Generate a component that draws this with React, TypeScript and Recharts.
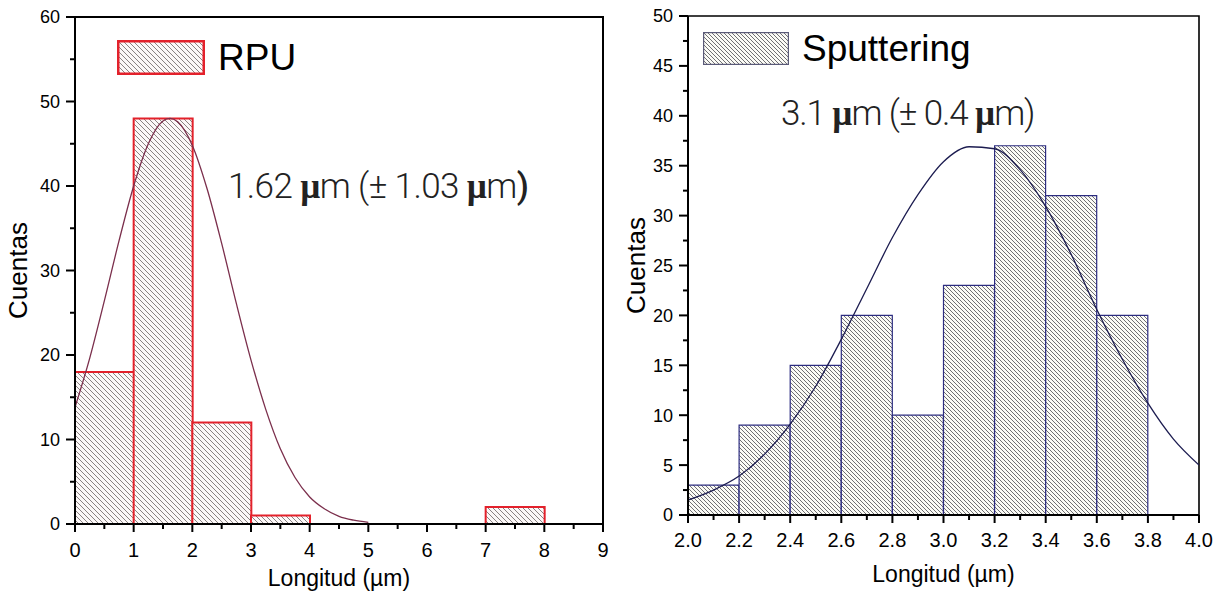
import React from 'react';
import { Bar, ComposedChart, Legend, Line, ReferenceArea, XAxis, YAxis } from 'recharts';

// RPU histogram (1 µm bins) and its gaussian fit
const rpuBins = ['0-1', '1-2', '2-3', '3-4', '4-5', '5-6', '6-7', '7-8', '8-9'];
const rpuCounts = [18, 48, 12, 1, 0, 0, 0, 2, 0];
const rpuFitX = [0, 0.25, 0.5, 0.75, 1, 1.25, 1.5, 1.62, 1.75, 2, 2.25, 2.5, 2.75, 3, 3.25, 3.5, 3.75, 4, 4.25, 4.5, 4.75, 5];
const rpuFitY = [13.8, 19.6, 26.4, 33.5, 40, 45, 47.7, 48, 47.6, 44.8, 39.7, 33.2, 26.1, 19.4, 13.6, 8.9, 5.5, 3.2, 1.8, 0.9, 0.45, 0.2];
const rpuXMajor = [0, 1, 2, 3, 4, 5, 6, 7, 8, 9];
const rpuXMinor = [0.5, 1.5, 2.5, 3.5, 4.5, 5.5, 6.5, 7.5, 8.5];
const rpuYMajor = [0, 10, 20, 30, 40, 50, 60];
const rpuYMinor = [5, 15, 25, 35, 45, 55];

// Sputtering histogram (0.2 µm bins) and its gaussian fit
const spBins = ['2.0-2.2', '2.2-2.4', '2.4-2.6', '2.6-2.8', '2.8-3.0', '3.0-3.2', '3.2-3.4', '3.4-3.6', '3.6-3.8', '3.8-4.0'];
const spCounts = [3, 9, 15, 20, 10, 23, 37, 32, 20, 0];
const spFitX = [2.0, 2.1, 2.2, 2.3, 2.4, 2.5, 2.6, 2.7, 2.8, 2.9, 3.0, 3.1, 3.2, 3.3, 3.4, 3.5, 3.6, 3.7, 3.8, 3.9, 4.0];
const spFitY = [1.5, 2.5, 3.9, 6.1, 9.1, 12.9, 17.6, 22.7, 27.8, 32.1, 35.4, 36.9, 36.7, 34.6, 30.9, 26.1, 20.6, 15.6, 11.2, 7.6, 5.0];
const spXMajor = [2.0, 2.2, 2.4, 2.6, 2.8, 3.0, 3.2, 3.4, 3.6, 3.8, 4.0];
const spXMinor = [2.1, 2.3, 2.5, 2.7, 2.9, 3.1, 3.3, 3.5, 3.7, 3.9];
const spYMajor = [0, 5, 10, 15, 20, 25, 30, 35, 40, 45, 50];
const spYMinor = [2.5, 7.5, 12.5, 17.5, 22.5, 27.5, 32.5, 37.5, 42.5, 47.5];

const FONT = '"Liberation Sans", Arial, sans-serif';
const NOTE_FONT = 'Roboto, "Open Sans", sans-serif';

const HatchPattern = ({ id, size, line, bg }: { id: string; size: number; line: string; bg: string }) => (
  <pattern id={id} patternUnits="userSpaceOnUse" width={size} height={size}>
    <rect width={size} height={size} fill={bg} />
    <path
      d={`M-1,-1 L${size + 1},${size + 1} M-1,${size - 1} L1,${size + 1} M${size - 1},-1 L${size + 1},1`}
      stroke={line}
      strokeWidth={0.8}
    />
  </pattern>
);

// outward ticks: long ones carry a label, short ones are minor
const makeYTick = (major: number[], fmt: (v: number) => string) => (props: any) => {
  const { x, y, payload } = props;
  const isMajor = major.includes(payload.value);
  return (
    <g>
      <line x1={x - (isMajor ? 9 : 5)} x2={x} y1={y} y2={y} stroke="#000" strokeWidth={2} />
      {isMajor && (
        <text x={x - 15} y={y} dy="0.36em" textAnchor="end" fontSize={18} fontFamily={FONT} fill="#000">
          {fmt(payload.value)}
        </text>
      )}
    </g>
  );
};

const makeXTick = (major: number[], fmt: (v: number) => string, baseline: number) => (props: any) => {
  const { x, y, payload } = props;
  const isMajor = major.includes(payload.value);
  return (
    <g>
      <line x1={x} x2={x} y1={y} y2={y + (isMajor ? 8 : 5)} stroke="#000" strokeWidth={2} />
      {isMajor && (
        <text x={x} y={y + baseline} textAnchor="middle" fontSize={20} fontFamily={FONT} fill="#000">
          {fmt(payload.value)}
        </text>
      )}
    </g>
  );
};

const makeLegend =
  (opts: { hatchId: string; size: number; line: string; bg: string; border: string; borderWidth: number; w: number; h: number }) =>
  (props: any) => {
    const entry = (props.payload || [])[0];
    return (
      <div style={{ display: 'flex', alignItems: 'center' }}>
        <svg width={opts.w} height={opts.h}>
          <defs>
            <HatchPattern id={opts.hatchId} size={opts.size} line={opts.line} bg={opts.bg} />
          </defs>
          <rect
            x={opts.borderWidth / 2}
            y={opts.borderWidth / 2}
            width={opts.w - opts.borderWidth}
            height={opts.h - opts.borderWidth}
            fill={`url(#${opts.hatchId})`}
            stroke={opts.border}
            strokeWidth={opts.borderWidth}
          />
        </svg>
        <span style={{ marginLeft: 13, fontFamily: FONT, fontSize: 37, color: '#000', lineHeight: 1 }}>
          {entry ? entry.value : ''}
        </span>
      </div>
    );
  };

const mu = { fontFamily: '"Liberation Serif", serif', fontWeight: 700 } as const;
const axisTitle = { fontSize: 23, fontFamily: FONT, fill: '#000' };

const rpuData = rpuBins.map((bin, i) => ({ bin, count: rpuCounts[i] }));
const rpuFit = rpuFitX.map((x, i) => ({ x, y: rpuFitY[i] }));
const spData = spBins.map((bin, i) => ({ bin, count: spCounts[i] }));
const spFit = spFitX.map((x, i) => ({ x, y: spFitY[i] }));

const RpuChart = () => (
  <ComposedChart width={620} height={591} data={rpuData} barCategoryGap={0} margin={{ top: 17, right: 17, bottom: 0, left: 20 }}>
    <defs>
      <HatchPattern id="rpuHatch" size={5} line="#6d6363" bg="#fcf8f8" />
    </defs>
    <XAxis
      xAxisId="num"
      dataKey="x"
      type="number"
      domain={[0, 9]}
      allowDataOverflow
      ticks={[...rpuXMajor, ...rpuXMinor]}
      interval={0}
      tickSize={0}
      tickMargin={0}
      height={67}
      axisLine={{ stroke: '#000', strokeWidth: 2 }}
      tickLine={false}
      tick={makeXTick(rpuXMajor, (v) => String(v), 33)}
      label={{ value: 'Longitud (µm)', position: 'insideBottom', offset: 5, style: axisTitle }}
    />
    <XAxis xAxisId="bins" dataKey="bin" type="category" height={0} hide />
    <YAxis
      type="number"
      domain={[0, 60]}
      allowDataOverflow
      ticks={[...rpuYMajor, ...rpuYMinor]}
      interval={0}
      tickSize={0}
      tickMargin={0}
      width={55}
      axisLine={{ stroke: '#000', strokeWidth: 2 }}
      tickLine={false}
      tick={makeYTick(rpuYMajor, (v) => String(v))}
      label={{ value: 'Cuentas', angle: -90, position: 'insideLeft', offset: -2, style: { ...axisTitle, fontSize: 26, textAnchor: 'middle' } }}
    />
    <Bar xAxisId="bins" dataKey="count" name="RPU" fill="url(#rpuHatch)" stroke="#e3212b" strokeWidth={2} isAnimationActive={false} />
    <Line
      xAxisId="num"
      data={rpuFit}
      dataKey="y"
      type="monotone"
      dot={false}
      activeDot={false}
      stroke="#7b2f4c"
      strokeWidth={1.3}
      legendType="none"
      isAnimationActive={false}
    />
    <ReferenceArea xAxisId="num" x1={0} x2={9} y1={0} y2={60} fill="none" stroke="#000" strokeWidth={2} />
    <Legend
      layout="vertical"
      align="center"
      verticalAlign="middle"
      wrapperStyle={{ top: 39, left: 117, width: 'auto' }}
      content={makeLegend({ hatchId: 'rpuKey', size: 5, line: '#6d6363', bg: '#fcf8f8', border: '#e3212b', borderWidth: 2.5, w: 88, h: 35 })}
    />
    <text x={228} y={198} fontFamily={NOTE_FONT} fontWeight={300} fontSize={35} letterSpacing={-0.6} fill="#222">
      1.62 <tspan style={mu}>µ</tspan>m (± 1.03 <tspan style={mu}>µ</tspan>m<tspan fontWeight={500}>)</tspan>
    </text>
  </ComposedChart>
);

const SputteringChart = () => (
  <ComposedChart width={603} height={591} data={spData} barCategoryGap={0} margin={{ top: 16, right: 24, bottom: 0, left: 13 }}>
    <defs>
      <HatchPattern id="spHatch" size={4} line="#4d4d52" bg="#fbfbf6" />
    </defs>
    <XAxis
      xAxisId="num"
      dataKey="x"
      type="number"
      domain={[2, 4]}
      allowDataOverflow
      ticks={[...spXMajor, ...spXMinor]}
      interval={0}
      tickSize={0}
      tickMargin={0}
      height={76}
      axisLine={{ stroke: '#000', strokeWidth: 2 }}
      tickLine={false}
      tick={makeXTick(spXMajor, (v) => v.toFixed(1), 32)}
      label={{ value: 'Longitud (µm)', position: 'insideBottom', offset: 9, style: axisTitle }}
    />
    <XAxis xAxisId="bins" dataKey="bin" type="category" height={0} hide />
    <YAxis
      type="number"
      domain={[0, 50]}
      allowDataOverflow
      ticks={[...spYMajor, ...spYMinor]}
      interval={0}
      tickSize={0}
      tickMargin={0}
      width={55}
      axisLine={{ stroke: '#000', strokeWidth: 2 }}
      tickLine={false}
      tick={makeYTick(spYMajor, (v) => String(v))}
      label={{ value: 'Cuentas', angle: -90, position: 'insideLeft', offset: 3, style: { ...axisTitle, fontSize: 26, textAnchor: 'middle' } }}
    />
    <Bar xAxisId="bins" dataKey="count" name="Sputtering" fill="url(#spHatch)" stroke="#2c2c80" strokeWidth={1.2} isAnimationActive={false} />
    <Line
      xAxisId="num"
      data={spFit}
      dataKey="y"
      type="monotone"
      dot={false}
      activeDot={false}
      stroke="#1c1c50"
      strokeWidth={1.3}
      legendType="none"
      isAnimationActive={false}
    />
    <ReferenceArea xAxisId="num" x1={2} x2={4} y1={0} y2={50} fill="none" stroke="#000" strokeWidth={1.6} />
    <Legend
      layout="vertical"
      align="center"
      verticalAlign="middle"
      wrapperStyle={{ top: 30, left: 83, width: 'auto' }}
      content={makeLegend({ hatchId: 'spKey', size: 4, line: '#4d4d52', bg: '#fbfbf6', border: '#5a5a78', borderWidth: 1.2, w: 86, h: 33 })}
    />
    <text x={161} y={125} fontFamily={NOTE_FONT} fontWeight={300} fontSize={35} letterSpacing={-1.1} fill="#222">
      3.1 <tspan style={mu}>µ</tspan>m (± 0.4 <tspan style={mu}>µ</tspan>m)
    </text>
  </ComposedChart>
);

export default function App() {
  return (
    <div style={{ position: 'absolute', left: 0, top: 0, width: 1223, height: 591, background: '#fff' }}>
      <div style={{ position: 'absolute', left: 0, top: 0 }}>
        <RpuChart />
      </div>
      <div style={{ position: 'absolute', left: 620, top: 0 }}>
        <SputteringChart />
      </div>
    </div>
  );
}
